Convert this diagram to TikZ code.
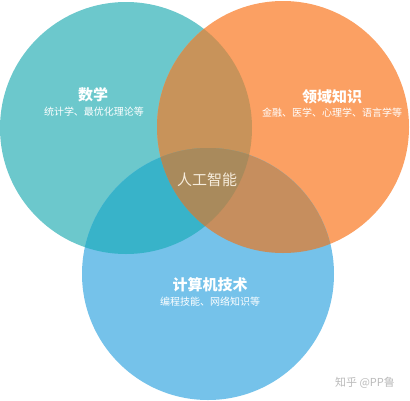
\documentclass[tikz,border=0pt]{standalone}
\usepackage{fontspec}
\newfontfamily\cjk{Noto Sans CJK SC}
\definecolor{cteal}{HTML}{6CC8CC}
\definecolor{corange}{HTML}{FBA063}
\definecolor{cblue}{HTML}{75C2EA}
\definecolor{cto}{HTML}{C8935A}
\definecolor{ctb}{HTML}{38B3C9}
\definecolor{cob}{HTML}{C68E5E}
\definecolor{call}{HTML}{A98A5C}
\definecolor{ccenter}{HTML}{F6ECDC}
\definecolor{cmark}{HTML}{BBBBBB}
\tikzset{
  title/.style={text=white,font=\cjk\bfseries\fontsize{15pt}{17pt}\selectfont,inner sep=0pt},
  sub/.style={text=white,font=\cjk\fontsize{10pt}{12pt}\selectfont,inner sep=0pt},
}
\begin{document}
\begin{tikzpicture}[x=1pt,y=-1pt]
\useasboundingbox[fill=white] (0,0) rectangle (410,400);
\def\tealc{(126,128) circle (126)}
\def\orangec{(283,127) circle (126)}
\def\bluec{(208,274) circle (126)}
\fill[cteal] \tealc;
\fill[corange] \orangec;
\fill[cblue] \bluec;
\begin{scope}
  \clip \tealc;
  \fill[cto] \orangec;
  \fill[ctb] \bluec;
\end{scope}
\begin{scope}
  \clip \orangec;
  \fill[cob] \bluec;
\end{scope}
\begin{scope}
  \clip \tealc;
  \clip \orangec;
  \fill[call] \bluec;
\end{scope}
\node[title] (m) at (93,95) {数学};
\node[sub] (ms) at (94,112) {统计学、最优化理论等};
\node[title] (d) at (332,97) {领域知识};
\node[sub] (ds) at (332,113) {金融、医学、心理学、语言学等};
\node[text=ccenter,font=\cjk\fontsize{15pt}{17pt}\selectfont,inner sep=0pt] (ai) at (207,180) {人工智能};
\node[title] (c) at (210,285) {计算机技术};
\node[sub] (cs) at (210,302) {编程技能、网络知识等};
\node[text=cmark,font=\cjk\fontsize{11pt}{13pt}\selectfont,inner sep=0pt] (w) at (365,383) {知乎 @PP鲁};
\end{tikzpicture}
\end{document}
